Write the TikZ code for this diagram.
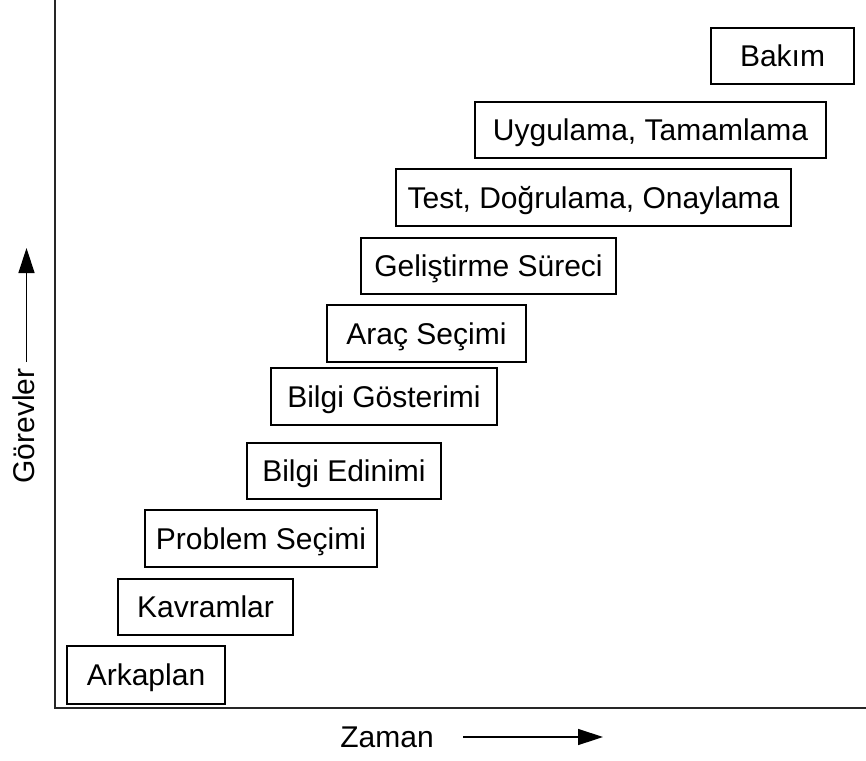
\documentclass[tikz,border=0pt]{standalone}
\usepackage{fontspec}
\setmainfont{Liberation Sans}
\usetikzlibrary{arrows.meta}

\begin{document}
\begin{tikzpicture}[x=1pt, y=-1pt,
  every node/.style={font=\fontsize{30}{35}\selectfont, inner sep=0pt,
    text height=21.2pt, text depth=0pt},
  stage/.style={draw=black, line width=1.1pt, minimum height=57pt},
  axisline/.style={draw=black!85, line width=1.5pt},
  dirarrow/.style={draw=black, line width=1.4pt,
    -{Triangle[length=25pt, width=16pt]}}]

  % page frame
  \useasboundingbox (0,0) rectangle (866,760);

  % axes
  \coordinate (top) at (55,0);
  \coordinate (origin) at (55,708);
  \coordinate (right) at (866,708);
  \draw[axisline] (top) -- (origin) -- (right);

  % phases, rising left to right
  \node[stage, minimum width=158pt, minimum height=58pt] (ark) at (146,675) {Arkaplan};
  \node[stage, minimum width=175pt, minimum height=56pt] (kav) at (205.5,607) {Kavramlar};
  \node[stage, minimum width=232pt] (prob) at (261,538.5) {Problem Seçimi};
  \node[stage, minimum width=194pt, minimum height=56pt] (edin) at (344,471) {Bilgi Edinimi};
  \node[stage, minimum width=226pt] (gost) at (384,396.5) {Bilgi Gösterimi};
  \node[stage, minimum width=199pt] (arac) at (426.5,333.5) {Araç Seçimi};
  \node[stage, minimum width=255pt, minimum height=56pt] (gel) at (488.5,266) {Geliştirme Süreci};
  \node[stage, minimum width=395pt] (test) at (593.5,197.5) {Test, Doğrulama, Onaylama};
  \node[stage, minimum width=351pt, minimum height=56pt] (uyg) at (650.5,130) {Uygulama, Tamamlama};
  \node[stage, minimum width=143pt, minimum height=56pt] (bak) at (782.5,56) {Bakım};

  % axis labels with direction arrows
  \node (zaman) at (387,737) {Zaman};
  \coordinate (zs) at (463,737);
  \coordinate (ze) at (603,737);
  \draw[dirarrow] (zs) -- (ze);

  \node[rotate=90] (gorev) at (24,426) {Görevler};
  \coordinate (gs) at (26.5,362);
  \coordinate (ge) at (26.5,248);
  \draw[dirarrow] (gs) -- (ge);
\end{tikzpicture}
\end{document}
